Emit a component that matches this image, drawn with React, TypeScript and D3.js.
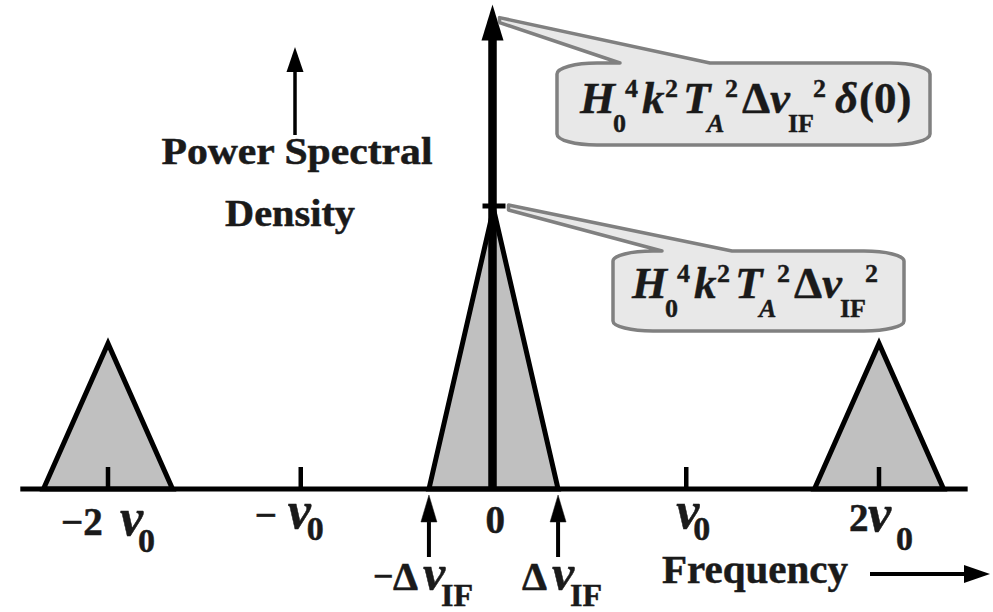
import React from "react";
import * as d3 from "d3";

// ---- data (frequency in units of ν0, power normalised to baseband peak) ----
const harmonicTicks = [-2, -1, 0, 1, 2];
const tickPrefixes = ["−2", "−", "0", "", "2"];
const tickHasNu = [true, true, false, true, true];
const sidebandCenters = [-2, 2];
const sidebandHalfWidth = 0.335;
const sidebandHeight = 0.52;
const basebandHalfWidth = 0.335; // Δν_IF
const basebandHeight = 1;
const deltaSpikeHeight = 1.73;
const axisExtent = [-2.455, 2.46];
const ifEdges = [-0.335, 0.335];
const ifLabelMinus = [true, false];

const W = 993;
const H = 612;
const FONT = '"Liberation Serif", "Times New Roman", Times, serif';
const INK = "#1a1a1a";

type Piece = { t: string; dx: number; pos: "main" | "sub" | "sup"; it?: boolean };

const formulaPieces: Piece[] = [
  { t: "H", dx: 0, pos: "main", it: true },
  { t: "0", dx: 33, pos: "sub" },
  { t: "4", dx: 45, pos: "sup" },
  { t: "k", dx: 62, pos: "main", it: true },
  { t: "2", dx: 85, pos: "sup" },
  { t: "T", dx: 103, pos: "main", it: true },
  { t: "A", dx: 127, pos: "sub", it: true },
  { t: "2", dx: 145, pos: "sup" },
  { t: "Δ", dx: 162, pos: "main" },
  { t: "ν", dx: 190, pos: "main", it: true },
  { t: "IF", dx: 208, pos: "sub" },
  { t: "2", dx: 233, pos: "sup" },
];
const deltaPieces: Piece[] = [
  { t: "δ", dx: 255, pos: "main", it: true },
  { t: "(0)", dx: 279, pos: "main" },
];

function Formula({ x0, base, pieces }: { x0: number; base: number; pieces: Piece[] }) {
  return (
    <g>
      {pieces.map((p, i) => (
        <text
          key={i}
          x={x0 + p.dx}
          y={base + (p.pos === "sub" ? 19 : p.pos === "sup" ? -16 : 0)}
          fontFamily={FONT}
          fontWeight="bold"
          fontStyle={p.it ? "italic" : "normal"}
          fontSize={p.pos === "main" ? 45 : 26}
          fill={INK}
          stroke={INK}
          strokeWidth={0.4}
        >
          {p.t}
        </text>
      ))}
    </g>
  );
}

function calloutPath(
  L: number, R: number, T: number, B: number, rx: number, ry: number,
  jx1: number, jx2: number, tipX: number, tipY1: number, tipY2: number
) {
  return `M${L},${T + ry} A${rx},${ry} 0 0 1 ${L + rx},${T} L${jx1},${T} L${tipX},${tipY2} L${tipX},${tipY1} L${jx2},${T} L${R - rx},${T} A${rx},${ry} 0 0 1 ${R},${T + ry} L${R},${B - ry} A${rx},${ry} 0 0 1 ${R - rx},${B} L${L + rx},${B} A${rx},${ry} 0 0 1 ${L},${B - ry} Z`;
}

function UpArrow({ x, tip, headBase, bottom, hw, sw }: { x: number; tip: number; headBase: number; bottom: number; hw: number; sw: number }) {
  return (
    <g>
      <line x1={x} x2={x} y1={bottom} y2={headBase - 2} stroke="#000" strokeWidth={sw} />
      <path d={`M${x},${tip} L${x + hw},${headBase} L${x - hw},${headBase} Z`} fill="#000" />
    </g>
  );
}

export default function App() {
  const x = d3.scaleLinear().domain([-2, 2]).range([108, 879]);
  const y = d3.scaleLinear().domain([0, 1]).range([489, 209]);
  const line = d3
    .line<[number, number]>()
    .x((d) => x(d[0]))
    .y((d) => y(d[1]));
  const tri = (c: number, hw: number, h: number) =>
    (line([
      [c - hw, 0],
      [c, h],
      [c + hw, 0],
    ]) as string) + "Z";

  const y0 = y(0);
  const x0 = x(0);
  const spikeTop = y(deltaSpikeHeight);
  const peakY = y(basebandHeight);

  const tickLayout: Record<string, { pre?: number; nu?: number; sub?: number; base: number; subBase?: number }> = {
    "-2": { pre: -47, nu: 12, sub: 30, base: 46, subBase: 63 },
    "-1": { pre: -46, nu: -13, sub: 6, base: 39, subBase: 51 },
    "0": { pre: -8, base: 44 },
    "1": { nu: -10, sub: 7, base: 39, subBase: 51 },
    "2": { pre: -30, nu: -11, sub: 17, base: 42, subBase: 61 },
  };

  return (
    <div>
      <style>{`body{margin:0;background:#fff}`}</style>
      <svg width={W} height={H} viewBox={`0 0 ${W} ${H}`} style={{ display: "block" }}>
        <rect width={W} height={H} fill="#fff" />

        {/* sidebands */}
        {sidebandCenters.map((c) => (
          <path key={c} d={tri(c, sidebandHalfWidth, sidebandHeight)} fill="#c0c0c0" stroke="#000" strokeWidth={5} strokeLinejoin="miter" />
        ))}
        {/* baseband */}
        <path d={tri(0, basebandHalfWidth, basebandHeight)} fill="#c0c0c0" stroke="#000" strokeWidth={5} strokeLinejoin="miter" />

        {/* axis */}
        <line x1={x(axisExtent[0])} x2={x(axisExtent[1])} y1={y0} y2={y0} stroke="#000" strokeWidth={5} />
        {harmonicTicks
          .filter((t) => t !== 0)
          .map((t) => (
            <line key={t} x1={x(t)} x2={x(t)} y1={y0} y2={y0 - 22} stroke="#000" strokeWidth={4.5} />
          ))}

        {/* delta spike */}
        <line x1={x0 - 1} x2={x0 - 1} y1={y0 + 2} y2={spikeTop + 30} stroke="#000" strokeWidth={8.5} />
        <path d={`M${x0 - 1},${spikeTop} L${x0 + 10},${spikeTop + 36} L${x0 - 12},${spikeTop + 36} Z`} fill="#000" />
        <line x1={x0 - 11} x2={x0 + 12} y1={peakY - 3} y2={peakY - 3} stroke="#000" strokeWidth={5} />

        {/* callouts */}
        <path
          d={calloutPath(557, 930, 63, 145, 40, 11, 620, 710, x0 + 6, spikeTop + 13, spikeTop + 18)}
          fill="#e8e8e8"
          stroke="#808080"
          strokeWidth={3.5}
          strokeLinejoin="round"
        />
        <Formula x0={580} base={113} pieces={[...formulaPieces, ...deltaPieces]} />

        <path
          d={calloutPath(613, 904, 251, 331, 40, 10, 662, 732, x0 + 15, peakY - 4, peakY + 1)}
          fill="#e8e8e8"
          stroke="#808080"
          strokeWidth={3.5}
          strokeLinejoin="round"
        />
        <Formula x0={632} base={298} pieces={formulaPieces} />

        {/* y axis title */}
        <UpArrow x={295} tip={47} headBase={72} bottom={135} hw={8.5} sw={3.5} />
        <g fontFamily={FONT} fontWeight="bold" fontSize={37} fill={INK} stroke={INK} strokeWidth={0.5}>
          <text x={297} y={164} textAnchor="middle" textLength={271} lengthAdjust="spacingAndGlyphs">
            Power Spectral
          </text>
          <text x={290} y={226} textAnchor="middle" textLength={130} lengthAdjust="spacingAndGlyphs">
            Density
          </text>
        </g>

        {/* tick labels */}
        {harmonicTicks.map((t, i) => {
          const L = tickLayout[String(t)];
          const tx = x(t);
          return (
            <g key={t} fontFamily={FONT} fontWeight="bold" fill={INK} stroke={INK} strokeWidth={0.5}>
              {tickPrefixes[i] && L.pre !== undefined && (
                <text x={tx + L.pre} y={y0 + L.base} fontSize={39}>
                  {tickPrefixes[i]}
                </text>
              )}
              {tickHasNu[i] && (
                <>
                  <text x={tx + (L.nu as number)} y={y0 + L.base} fontSize={52} fontStyle="italic">
                    ν
                  </text>
                  <text x={tx + (L.sub as number)} y={y0 + (L.subBase as number)} fontSize={34}>
                    0
                  </text>
                </>
              )}
            </g>
          );
        })}

        {/* IF band edge markers */}
        {ifEdges.map((e, i) => {
          const ex = x(e);
          return (
            <g key={e} fontFamily={FONT} fontWeight="bold" fill={INK} stroke={INK} strokeWidth={0.5}>
              <UpArrow x={ex} tip={y0 + 6} headBase={y0 + 33} bottom={y0 + 68} hw={8} sw={4} />
              {ifLabelMinus[i] && (
                <text x={ex - 56} y={y0 + 99} fontSize={36}>
                  −
                </text>
              )}
              <text x={ex - 36} y={y0 + 101} fontSize={40}>
                Δ
              </text>
              <text x={ex - 6} y={y0 + 101} fontSize={50} fontStyle="italic">
                ν
              </text>
              <text x={ex + 12} y={y0 + 117} fontSize={32}>
                IF
              </text>
            </g>
          );
        })}

        {/* x axis title */}
        <text x={662} y={583} fontFamily={FONT} fontWeight="bold" fontSize={40} textLength={186} lengthAdjust="spacingAndGlyphs" fill={INK} stroke={INK} strokeWidth={0.5}>
          Frequency
        </text>
        <line x1={870} x2={968} y1={574} y2={574} stroke="#000" strokeWidth={4} />
        <path d={`M990,574 L964,565 L964,583 Z`} fill="#000" />
      </svg>
    </div>
  );
}
